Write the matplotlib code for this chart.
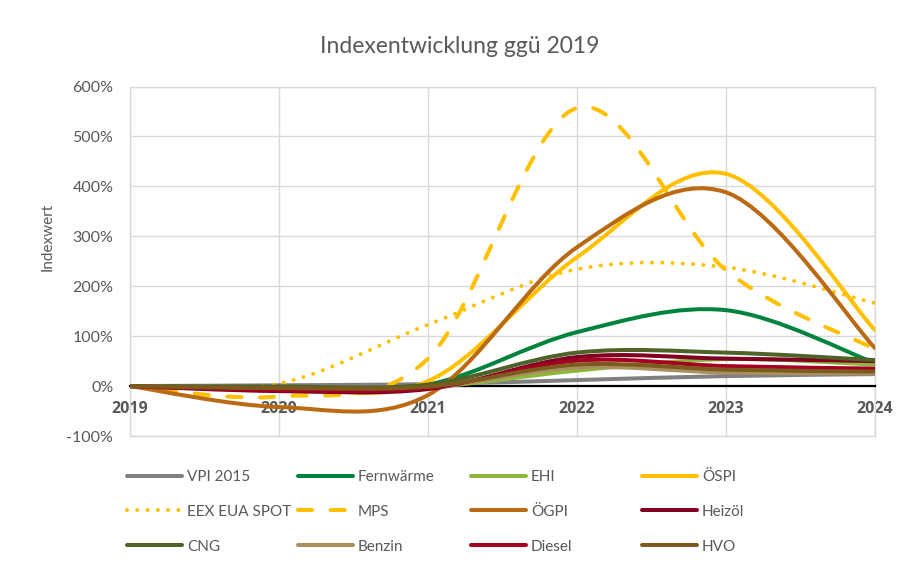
import matplotlib
matplotlib.use('Agg')
import matplotlib.pyplot as plt
from matplotlib.path import Path
from matplotlib.patches import PathPatch
from matplotlib.lines import Line2D
from matplotlib.ticker import FuncFormatter

plt.rcParams['font.family'] = ['Lato', 'DejaVu Sans']

# ---- data (index change vs. 2019, in %) ----
years = ['2019', '2020', '2021', '2022', '2023', '2024']
names = ['VPI 2015', 'Fernwärme', 'EHI', 'ÖSPI', 'EEX EUA SPOT', 'MPS',
         'ÖGPI', 'Heizöl', 'CNG', 'Benzin', 'Diesel', 'HVO']
vpi       = [0, 1.5, 4, 12, 20, 24]
fernwaerme = [0, -3, 3, 108, 152, 46]
ehi       = [0, -4, -2, 31, 54, 43]
ospi      = [0, -5, 10, 258, 425, 112]
eex       = [0, 5, 123, 234, 238, 166]
mps       = [0, -21, 55, 557, 232, 74]
ogpi      = [0, -42, -18, 278, 388, 76]
heizoel   = [0, -10, -6, 58, 55, 50]
cng       = [0, -1, 3, 67, 67, 52]
benzin    = [0, -6, -3, 37, 27, 25]
diesel    = [0, -8, -4, 51, 40, 35]
hvo       = [0, -4, -1, 43, 33, 29]
values = [vpi, fernwaerme, ehi, ospi, eex, mps, ogpi, heizoel, cng, benzin, diesel, hvo]

colors = ['#808080', '#00843D', '#8DB63C', '#FFC000', '#FFC000', '#FFC000',
          '#BA6A12', '#7F0020', '#4F6228', '#A89060', '#A50021', '#7C5C1E']
dot = (0, (0.001, 2.55))
dash = (0, (3.5, 4.6))
styles = ['-', '-', '-', '-', dot, dash, '-', '-', '-', '-', '-', '-']

LW = 2.9
GRID = '#D9D9D9'
TXT = '#595959'


def smooth_path(xs, ys):
    """Excel-like smoothed line: Catmull-Rom as cubic Bezier segments."""
    n = len(xs)
    verts = [(xs[0], ys[0])]
    codes = [Path.MOVETO]
    for i in range(n - 1):
        x0, y0 = xs[i], ys[i]
        x1, y1 = xs[i + 1], ys[i + 1]
        xp, yp = (xs[i - 1], ys[i - 1]) if i > 0 else (x0, y0)
        xn, yn = (xs[i + 2], ys[i + 2]) if i + 2 < n else (x1, y1)
        c1 = (x0 + (x1 - xp) / 6.0, y0 + (y1 - yp) / 6.0)
        c2 = (x1 - (xn - x0) / 6.0, y1 - (yn - y0) / 6.0)
        verts += [c1, c2, (x1, y1)]
        codes += [Path.CURVE4] * 3
    return Path(verts, codes)


fig = plt.figure(figsize=(9.03, 5.65), dpi=100)
W, H = 903, 565
ax = fig.add_axes([130 / W, 1 - 436 / H, 745 / W, 349.5 / H])

# spines first (set_position resets the tick labels)
for s in ['left', 'right', 'top']:
    ax.spines[s].set_color(GRID)
    ax.spines[s].set_linewidth(1.0)
ax.spines['bottom'].set_position(('data', 0))
ax.spines['bottom'].set_color('black')
ax.spines['bottom'].set_linewidth(1.6)
ax.spines['bottom'].set_zorder(2.5)

xs = list(range(len(years)))
handles = []
for i, (nm, vals, c, ls) in enumerate(zip(names, values, colors, styles)):
    p = PathPatch(smooth_path(xs, vals), facecolor='none', edgecolor=c, lw=LW,
                  linestyle=ls, capstyle='round', joinstyle='round', zorder=3 + i * 0.01)
    ax.add_patch(p)
    h = Line2D([], [], color=c, lw=LW, linestyle=ls,
               solid_capstyle='round', dash_capstyle='round', label=nm)
    handles.append(h)

ax.set_xlim(0, len(years) - 1)
ax.set_ylim(-100, 600)
ax.set_xticks(xs)
ax.set_xticklabels(years, fontweight='bold', fontsize=11.5, color=TXT,
                   family=['Open Sans', 'DejaVu Sans'])
ax.set_yticks(range(-100, 601, 100))
ax.yaxis.set_major_formatter(FuncFormatter(lambda v, p: f"{v:.0f}%"))
ax.tick_params(axis='y', length=0, pad=12, labelsize=11.5, labelcolor=TXT)
ax.tick_params(axis='x', length=0, pad=11)

ax.grid(True, color=GRID, lw=1.0, zorder=0)
ax.set_axisbelow(True)
ax.axhline(-100, color=GRID, lw=1.0, clip_on=False, zorder=0.5)

fig.text(460 / W, 1 - 53 / H, 'Indexentwicklung ggü 2019', ha='center', va='baseline',
         fontsize=16.5, color=TXT)
fig.text(48 / W, 1 - 237 / H, 'Indexwert', ha='center', va='center', rotation=90,
         fontsize=11, color=TXT)

# legend: 3 rows x 4 columns, row-major order as in the reference
col_x = [127, 298, 471, 642]
for c in range(4):
    col_handles = [handles[c + 4 * r] for r in range(3)]
    leg = fig.legend(handles=col_handles, loc='upper left',
                     bbox_to_anchor=(col_x[c] / W, 1 - 470 / H),
                     frameon=False, fontsize=11, handlelength=3.6,
                     handletextpad=0.33, labelspacing=1.36, borderpad=0,
                     borderaxespad=0)
    for t in leg.get_texts():
        t.set_color(TXT)

fig.savefig('out.png', dpi=100)
